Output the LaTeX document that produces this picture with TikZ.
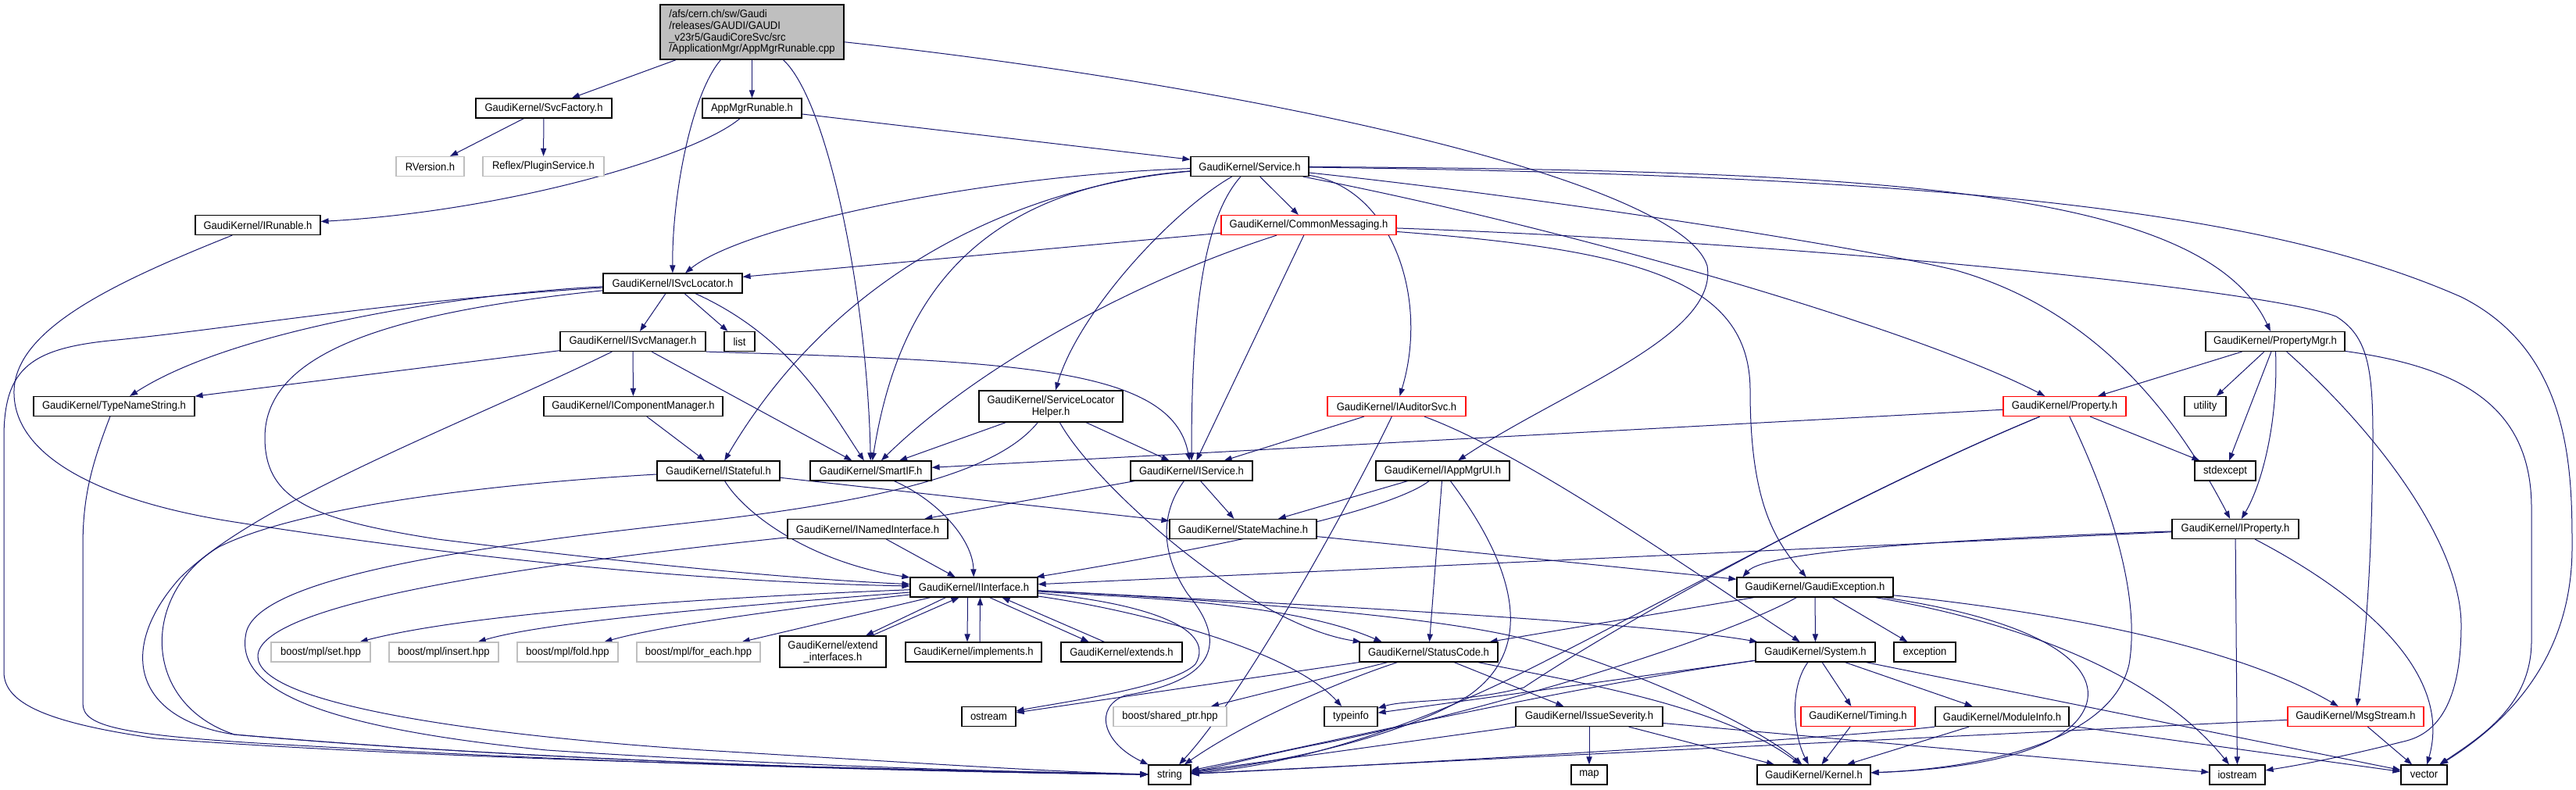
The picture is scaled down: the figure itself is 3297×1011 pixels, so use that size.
\documentclass[tikz,border=0pt]{standalone}
\usepackage{fontspec}
\setmainfont{Liberation Sans}[FakeStretch=0.93]
\usetikzlibrary{arrows.meta,backgrounds}
\definecolor{edgeblue}{HTML}{191970}
\definecolor{greyl}{HTML}{BFBFBF}
\newcommand\nodefont{\fontsize{7}{7.4}\selectfont}
\begin{document}
\begin{tikzpicture}[x=0.5pt,y=-0.5pt,
  nd/.style={draw=black, fill=white, line width=0.6pt, inner sep=0pt, minimum height=12.5pt, font=\nodefont, text=black},
  rd/.style={nd, draw=red},
  gd/.style={nd, draw=greyl},
  ed/.style={draw=edgeblue, line width=0.5pt, -{Triangle[length=5pt,width=3.6pt]}, fill=none}]
\useasboundingbox (0,0) rectangle (3297,1011);
% nodes
\node[nd, fill=greyl, minimum width=117.5pt, minimum height=35pt, align=left] (main) at (962.5,41) {/afs/cern.ch/sw/Gaudi\\/releases/GAUDI/GAUDI\\\_v23r5/GaudiCoreSvc/src\\/ApplicationMgr/AppMgrRunable.cpp};
\node[nd, minimum width=87pt] (svcfactory) at (696,138.5) {GaudiKernel/SvcFactory.h};
\node[nd, minimum width=63.5pt] (appmgrh) at (962.5,138.5) {AppMgrRunable.h};
\node[gd, minimum width=43.5pt] (rversion) at (550.5,213) {RVersion.h};
\node[gd, minimum width=77.5pt] (plugin) at (695.5,213) {Reflex/PluginService.h};
\node[nd, minimum width=80pt] (irunable) at (330,288) {GaudiKernel/IRunable.h};
\node[nd, minimum width=75.5pt] (service) at (1599.5,213) {GaudiKernel/Service.h};
\node[rd, minimum width=112pt] (commsg) at (1675,288) {GaudiKernel/CommonMessaging.h};
\node[nd, minimum width=89pt] (isvcloc) at (861,362.5) {GaudiKernel/ISvcLocator.h};
\node[nd, minimum width=93pt] (isvcmgr) at (810,437) {GaudiKernel/ISvcManager.h};
\node[nd, minimum width=19.5pt] (list) at (946.5,437) {list};
\node[nd, minimum width=103pt] (typename) at (146,520) {GaudiKernel/TypeNameString.h};
\node[nd, minimum width=114.5pt] (icompmgr) at (810.5,520) {GaudiKernel/IComponentManager.h};
\node[nd, minimum width=92pt, minimum height=20pt, align=center] (slh) at (1345,520) {GaudiKernel/ServiceLocator\\Helper.h};
\node[rd, minimum width=88.5pt] (iauditor) at (1787.5,520) {GaudiKernel/IAuditorSvc.h};
\node[nd, minimum width=78.5pt] (istateful) at (919.5,602.5) {GaudiKernel/IStateful.h};
\node[nd, minimum width=77.5pt] (smartif) at (1114.5,602.5) {GaudiKernel/SmartIF.h};
\node[nd, minimum width=78pt] (iservice) at (1525,602.5) {GaudiKernel/IService.h};
\node[nd, minimum width=85.5pt] (iappmgrui) at (1846.5,602.5) {GaudiKernel/IAppMgrUI.h};
\node[nd, minimum width=89pt] (propmgr) at (2912,437) {GaudiKernel/PropertyMgr.h};
\node[rd, minimum width=78.5pt] (property) at (2642.5,520) {GaudiKernel/Property.h};
\node[nd, minimum width=26.5pt] (utility) at (2822.5,520) {utility};
\node[nd, minimum width=39pt] (stdexcept) at (2848,602.5) {stdexcept};
\node[nd, minimum width=102.5pt] (inamed) at (1110.5,677) {GaudiKernel/INamedInterface.h};
\node[nd, minimum width=94pt] (statemachine) at (1591,677) {GaudiKernel/StateMachine.h};
\node[nd, minimum width=81pt] (iproperty) at (2861,677) {GaudiKernel/IProperty.h};
\node[nd, minimum width=81.5pt] (iinterface) at (1246.5,751.5) {GaudiKernel/IInterface.h};
\node[nd, minimum width=100pt] (gaudiexc) at (2323,751.5) {GaudiKernel/GaudiException.h};
\node[gd, minimum width=63.5pt] (bset) at (410.5,834.5) {boost/mpl/set.hpp};
\node[gd, minimum width=70pt] (binsert) at (568,834.5) {boost/mpl/insert.hpp};
\node[gd, minimum width=64.5pt] (bfold) at (726.5,834.5) {boost/mpl/fold.hpp};
\node[gd, minimum width=79pt] (bforeach) at (894,834.5) {boost/mpl/for\_each.hpp};
\node[nd, minimum width=68pt, minimum height=20pt, align=center] (extendif) at (1066,834) {GaudiKernel/extend\\\_interfaces.h};
\node[nd, minimum width=87pt] (implements) at (1246,834.5) {GaudiKernel/implements.h};
\node[nd, minimum width=77.5pt] (extends) at (1435.5,834.5) {GaudiKernel/extends.h};
\node[nd, minimum width=88.5pt] (statuscode) at (1828.5,834.5) {GaudiKernel/StatusCode.h};
\node[nd, minimum width=76.5pt] (system) at (2323.5,834.5) {GaudiKernel/System.h};
\node[nd, minimum width=39.5pt] (exception) at (2463.5,834.5) {exception};
\node[nd, minimum width=34.5pt] (ostream) at (1265.5,917) {ostream};
\node[gd, minimum width=72.5pt] (sharedptr) at (1497.5,917) {boost/shared\_ptr.hpp};
\node[nd, minimum width=34pt] (typeinfo) at (1729,917) {typeinfo};
\node[nd, minimum width=94pt] (issue) at (2034,917) {GaudiKernel/IssueSeverity.h};
\node[rd, minimum width=73pt] (timing) at (2378,917) {GaudiKernel/Timing.h};
\node[nd, minimum width=85.5pt] (moduleinfo) at (2562.5,917) {GaudiKernel/ModuleInfo.h};
\node[rd, minimum width=87pt] (msgstream) at (3015,917) {GaudiKernel/MsgStream.h};
\node[nd, minimum width=27pt] (string) at (1497,991.5) {string};
\node[nd, minimum width=23pt] (map) at (2034,991.5) {map};
\node[nd, minimum width=72.5pt] (kernel) at (2321.5,991.5) {GaudiKernel/Kernel.h};
\node[nd, minimum width=35.5pt] (iostream) at (2863.5,991.5) {iostream};
\node[nd, minimum width=29.5pt] (vector) at (3102.5,991.5) {vector};

\begin{pgfonlayer}{background}
\fill[white] (0,0) rectangle (3297,1011);
% main
\draw[ed] (main) -- (svcfactory);
\draw[ed] (main) -- (appmgrh);
\draw[ed] ([xshift=-20pt]main.south) .. controls (885,120) and (860,250) .. (isvcloc);
\draw[ed] ([xshift=20pt]main.south) .. controls (1060,130) and (1110,380) .. (smartif);
\draw[ed] (main) .. controls (1600,110) and (2150,230) .. (2185,340) .. controls (2200,430) and (2000,500) .. (iappmgrui);
\draw[ed] (svcfactory) -- (rversion);
\draw[ed] (svcfactory) -- (plugin);
\draw[ed] (appmgrh) .. controls (890,200) and (650,270) .. (irunable);
\draw[ed] (appmgrh) -- (service);
\draw[ed] (irunable) .. controls (150,360) and (20,420) .. (18,500) .. controls (16,580) and (120,640) .. (300,668) .. controls (600,715) and (900,745) .. (iinterface);
% Service
\draw[ed] (service) .. controls (1250,225) and (950,290) .. (isvcloc);
\draw[ed] (service) -- (commsg);
\draw[ed] (service) .. controls (1250,240) and (1150,380) .. (smartif);
\draw[ed] (service) .. controls (1330,235) and (1080,330) .. (istateful);
\draw[ed] (service) .. controls (1500,270) and (1380,400) .. (slh);
\draw[ed] (service) .. controls (1540,280) and (1525,400) .. (iservice);
\draw[ed] (service) .. controls (1780,240) and (1830,380) .. (iauditor);
\draw[ed] (service) .. controls (2000,290) and (2450,420) .. (property);
\draw[ed] (service) .. controls (2400,218) and (2820,240) .. (propmgr);
\draw[ed] (service) .. controls (1950,250) and (2350,310) .. (2500,345) .. controls (2700,400) and (2800,560) .. (iproperty);
\draw[ed] (service) .. controls (2500,225) and (2900,270) .. (3150,380) .. controls (3290,450) and (3292,600) .. (3292,700) .. controls (3292,850) and (3200,930) .. (vector);
% CommonMessaging
\draw[ed] (commsg) -- (isvcloc);
\draw[ed] (commsg) .. controls (1450,360) and (1250,470) .. (smartif);
\draw[ed] (commsg) -- (iservice);
\draw[ed] (commsg) .. controls (2100,320) and (2240,360) .. (2240,500) .. controls (2240,640) and (2270,690) .. (gaudiexc);
\draw[ed] (commsg) .. controls (2300,310) and (2900,370) .. (2990,405) .. controls (3030,430) and (3037,470) .. (3037,560) .. controls (3036,700) and (3030,800) .. (msgstream);
% ISvcLocator
\draw[ed] (isvcloc) -- (isvcmgr);
\draw[ed] (isvcloc) -- (list);
\draw[ed] (isvcloc) .. controls (600,375) and (300,420) .. (typename);
\draw[ed] (isvcloc) .. controls (1010,430) and (1060,520) .. (smartif);
\draw[ed] (isvcloc) .. controls (500,400) and (339,450) .. (339,560) .. controls (339,640) and (400,665) .. (560,690) .. controls (800,720) and (1000,740) .. (iinterface);
\draw[ed] (isvcloc) .. controls (500,385) and (300,420) .. (150,435) .. controls (40,445) and (5,470) .. (5,560) -- (5,860) .. controls (5,900) and (60,925) .. (200,945) .. controls (600,975) and (1200,985) .. (string);
% ISvcManager
\draw[ed] (isvcmgr) -- (typename);
\draw[ed] (isvcmgr) -- (icompmgr);
\draw[ed] (isvcmgr) -- (smartif);
\draw[ed] (isvcmgr.south east) .. controls (1300,462) and (1500,470) .. (iservice);
\draw[ed] (isvcmgr) .. controls (600,540) and (330,640) .. (230,740) .. controls (150,830) and (170,920) .. (300,940) .. controls (700,975) and (1200,988) .. (string);
\draw[ed] (typename) .. controls (115,600) and (106,640) .. (106,700) -- (106,900) .. controls (106,930) and (150,942) .. (400,955) .. controls (800,978) and (1200,988) .. (string);
\draw[ed] (icompmgr) -- (istateful);
% IStateful
\draw[ed] (istateful) .. controls (955,660) and (1040,720) .. (iinterface);
\draw[ed] (istateful) -- (statemachine);
\draw[ed] (istateful) .. controls (700,615) and (400,640) .. (280,700) .. controls (180,760) and (180,900) .. (300,940) .. controls (700,975) and (1200,988) .. (string);
\draw[ed] (smartif) .. controls (1200,640) and (1245,690) .. (iinterface);
% ServiceLocatorHelper
\draw[ed] (slh) -- (smartif);
\draw[ed] (slh) -- (iservice);
\draw[ed] (slh) .. controls (1280,600) and (1150,640) .. (873,670) .. controls (600,700) and (330,740) .. (315,810) .. controls (300,880) and (400,930) .. (700,960) .. controls (1000,980) and (1300,988) .. (string);
\draw[ed] (slh) .. controls (1400,620) and (1600,800) .. (statuscode);
% IService
\draw[ed] (iservice) -- (inamed);
\draw[ed] (iservice) -- (statemachine);
\draw[ed] (iservice) .. controls (1490,650) and (1480,700) .. (1520,760) .. controls (1570,820) and (1560,870) .. (1440,890) .. controls (1400,905) and (1410,950) .. (string);
% IAuditorSvc
\draw[ed] (iauditor) -- (iservice);
\draw[ed] (iauditor) .. controls (1740,620) and (1600,880) .. (string);
\draw[ed] (iauditor) .. controls (1950,580) and (2150,720) .. (system);
% IAppMgrUI
\draw[ed] (iappmgrui) -- (statemachine);
\draw[ed] (iappmgrui) .. controls (1770,660) and (1500,710) .. (iinterface);
\draw[ed] (iappmgrui) -- (statuscode);
\draw[ed] (iappmgrui) .. controls (1920,700) and (1980,820) .. (1880,890) .. controls (1800,940) and (1650,975) .. (string);
% PropertyMgr
\draw[ed] (propmgr) -- (property);
\draw[ed] (propmgr) -- (utility);
\draw[ed] (propmgr) -- (stdexcept);
\draw[ed] (propmgr) .. controls (2916,540) and (2895,620) .. (iproperty);
\draw[ed] (propmgr) .. controls (3050,560) and (3150,700) .. (3150,800) .. controls (3150,880) and (3130,935) .. (3080,948) .. controls (3000,968) and (2950,978) .. (iostream);
\draw[ed] (propmgr) .. controls (3150,470) and (3240,520) .. (3240,650) -- (3240,820) .. controls (3240,900) and (3180,940) .. (vector);
% Property
\draw[ed] (property) -- (smartif);
\draw[ed] (property) -- (stdexcept);
\draw[ed] (property) .. controls (2400,620) and (2150,760) .. (1950,860) .. controls (1800,935) and (1650,980) .. (string);
\draw[ed] (property) .. controls (2400,620) and (2100,780) .. (1950,880) .. controls (1870,900) and (1800,895) .. (typeinfo);
\draw[ed] (property) .. controls (2700,640) and (2740,760) .. (2725,850) .. controls (2700,960) and (2500,985) .. (kernel);
% IProperty
\draw[ed] (iproperty) -- (iinterface);
\draw[ed] (iproperty) .. controls (2500,690) and (2260,705) .. ([xshift=4pt]gaudiexc.north west);
\draw[ed] (iproperty) -- (iostream);
\draw[ed] (iproperty) .. controls (3020,760) and (3140,860) .. (vector);
% INamedInterface, StateMachine
\draw[ed] (inamed) -- (iinterface);
\draw[ed] (inamed) .. controls (700,720) and (330,770) .. (330,840) .. controls (330,900) and (600,940) .. (900,960) .. controls (1200,978) and (1350,988) .. (string);
\draw[ed] (statemachine) -- (gaudiexc);
% IInterface
\draw[ed] (iinterface) .. controls (900,765) and (600,785) .. (bset);
\draw[ed] (iinterface) .. controls (950,775) and (700,795) .. (binsert);
\draw[ed] (iinterface) .. controls (1000,780) and (850,800) .. (bfold);
\draw[ed] (iinterface) -- (bforeach);
\draw[ed] ([xshift=-18pt]iinterface.south) -- ([xshift=21pt]extendif.north);
\draw[ed] ([xshift=25pt]extendif.north) -- ([xshift=-9.5pt]iinterface.south);
\draw[ed] ([xshift=-4pt]iinterface.south) -- ([xshift=-4pt]implements.north);
\draw[ed] ([xshift=4pt]implements.north) -- ([xshift=4pt]iinterface.south);
\draw[ed] ([xshift=10pt]iinterface.south) -- ([xshift=-21pt]extends.north);
\draw[ed] ([xshift=-11pt]extends.north) -- ([xshift=18pt]iinterface.south);
\draw[ed] (iinterface) .. controls (1450,765) and (1650,770) .. ([xshift=-30pt]statuscode.north);
\draw[ed] (iinterface) .. controls (1600,770) and (2100,795) .. (system);
\draw[ed] (iinterface) .. controls (1600,770) and (1850,790) .. (1960,820) .. controls (2100,860) and (2250,930) .. (kernel);
\draw[ed] (iinterface) .. controls (1450,770) and (1560,800) .. (1530,850) .. controls (1500,880) and (1350,900) .. (ostream);
\draw[ed] (iinterface) .. controls (1450,780) and (1650,830) .. (typeinfo);
% GaudiException
\draw[ed] (gaudiexc) -- (statuscode);
\draw[ed] (gaudiexc) -- (system);
\draw[ed] (gaudiexc) -- (exception);
\draw[ed] (gaudiexc) .. controls (2600,780) and (2850,820) .. (msgstream);
\draw[ed] (gaudiexc) .. controls (2550,790) and (2750,850) .. (iostream);
\draw[ed] (gaudiexc) .. controls (2650,800) and (2700,870) .. (2660,920) .. controls (2620,970) and (2500,985) .. (kernel);
\draw[ed] (gaudiexc) .. controls (2200,820) and (1900,910) .. (1700,950) .. controls (1620,965) and (1570,980) .. (string);
% StatusCode
\draw[ed] (statuscode) -- (ostream);
\draw[ed] (statuscode) -- (sharedptr);
\draw[ed] (statuscode) -- (issue);
\draw[ed] (statuscode) .. controls (2000,870) and (2200,900) .. (kernel);
\draw[ed] (statuscode) .. controls (1720,870) and (1600,920) .. (string);
% System
\draw[ed] (system) -- (typeinfo);
\draw[ed] (system) .. controls (2000,880) and (1700,950) .. (string);
\draw[ed] (system) -- (timing);
\draw[ed] (system) -- (moduleinfo);
\draw[ed] (system) .. controls (2290,880) and (2295,940) .. (kernel);
\draw[ed] (system) -- (vector);
% IssueSeverity etc.
\draw[ed] (issue) -- (map);
\draw[ed] (issue) -- (kernel);
\draw[ed] (issue) -- (string);
\draw[ed] (issue) -- (iostream);
\draw[ed] (timing) -- (kernel);
\draw[ed] (moduleinfo) -- (kernel);
\draw[ed] (moduleinfo.south west) .. controls (2350,945) and (1800,978) .. (string);
\draw[ed] (moduleinfo) -- (vector);
\draw[ed] (msgstream) -- (string);
\draw[ed] (msgstream) -- (vector);
\end{pgfonlayer}
\end{tikzpicture}
\end{document}
